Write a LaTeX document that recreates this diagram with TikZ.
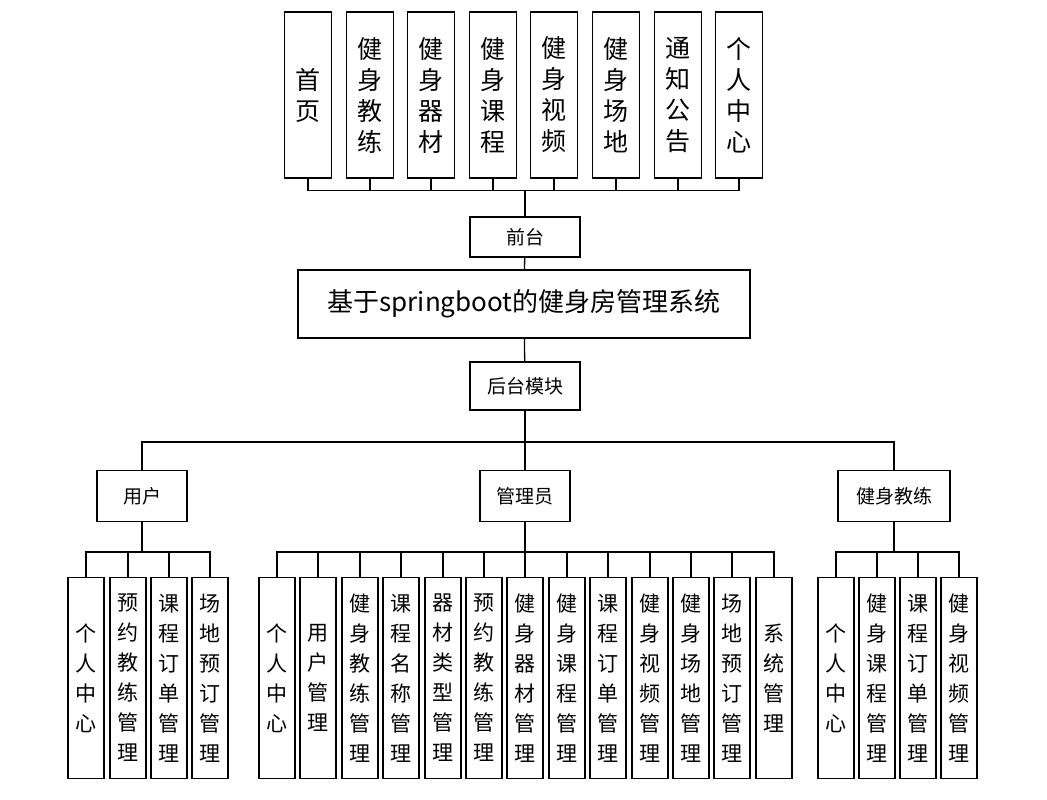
\documentclass[tikz,border=0pt]{standalone}
\usepackage{fontspec}
\setmainfont{Noto Sans CJK SC}
\usetikzlibrary{positioning}

\begin{document}
\begin{tikzpicture}[x=1pt,y=-1pt,
    topbox/.style={draw,line width=1.3pt,minimum width=47pt,minimum height=166pt,inner sep=0pt,align=center,font=\fontsize{25}{31}\selectfont},
    subbox/.style={draw,line width=1.3pt,minimum width=36pt,minimum height=201pt,inner sep=0pt,align=center,font=\fontsize{21}{30}\selectfont},
    midbox/.style={draw,line width=1.3pt,inner sep=0pt,font=\fontsize{19}{22}\selectfont},
    link/.style={line width=1.3pt}]
        \useasboundingbox (0,0) rectangle (1047,800);

        % top modules
        \foreach \i/\x/\t in {1/308/首\\页,2/370/健\\身\\教\\练,3/431/健\\身\\器\\材,4/493/健\\身\\课\\程,5/554/健\\身\\视\\频,6/616/健\\身\\场\\地,7/678/通\\知\\公\\告,8/739/个\\人\\中\\心}
            \node[topbox] (top\i) at (\x,95) {\t};

        \node[midbox,minimum width=110pt,minimum height=40pt] (front) at (525,237) {前台};
        \node[draw,line width=1.3pt,minimum width=452pt,minimum height=68pt,font=\fontsize{26}{30}\selectfont] (sys) at (524,304) {基于springboot的健身房管理系统};
        \node[midbox,minimum width=110pt,minimum height=48pt] (back) at (525,386) {后台模块};

        \node[midbox,minimum width=90pt,minimum height=51pt] (user) at (142,496) {用户};
        \node[midbox,minimum width=90pt,minimum height=51pt] (admin) at (525,496) {管理员};
        \node[midbox,minimum width=112pt,minimum height=51pt] (coach) at (894,496) {健身教练};

        % user modules
        \foreach \i/\x/\t in {1/86/个\\人\\中\\心,2/128/预\\约\\教\\练\\管\\理,3/169/课\\程\\订\\单\\管\\理,4/210/场\\地\\预\\订\\管\\理}
            \node[subbox] (u\i) at (\x,678) {\t};

        % admin modules
        \foreach \i/\x/\t in {1/277/个\\人\\中\\心,2/318/用\\户\\管\\理,3/360/健\\身\\教\\练\\管\\理,4/401/课\\程\\名\\称\\管\\理,5/443/器\\材\\类\\型\\管\\理,6/484/预\\约\\教\\练\\管\\理,7/525/健\\身\\器\\材\\管\\理,8/567/健\\身\\课\\程\\管\\理,9/608/课\\程\\订\\单\\管\\理,10/650/健\\身\\视\\频\\管\\理,11/691/健\\身\\场\\地\\管\\理,12/732/场\\地\\预\\订\\管\\理,13/774/系\\统\\管\\理}
            \node[subbox] (a\i) at (\x,678) {\t};

        % coach modules
        \foreach \i/\x/\t in {1/836/个\\人\\中\\心,2/877/健\\身\\课\\程\\管\\理,3/918/课\\程\\订\\单\\管\\理,4/959/健\\身\\视\\频\\管\\理}
            \node[subbox] (c\i) at (\x,678) {\t};

        % connectors
        \foreach \i in {1,...,8}
            \draw[link] (top\i.south) -- ++(0,12) -| (front.north);
        \draw[link] (front) -- (sys);
        \draw[link] (sys) -- (back);
        \foreach \n in {user,admin,coach}
            \draw[link] (\n.north) -- ++(0,-28) -| (back.south);
        \foreach \i in {1,...,4}
            \draw[link] (u\i.north) -- ++(0,-25) -| (user.south);
        \foreach \i in {1,...,13}
            \draw[link] (a\i.north) -- ++(0,-25) -| (admin.south);
        \foreach \i in {1,...,4}
            \draw[link] (c\i.north) -- ++(0,-25) -| (coach.south);
\end{tikzpicture}
\end{document}
